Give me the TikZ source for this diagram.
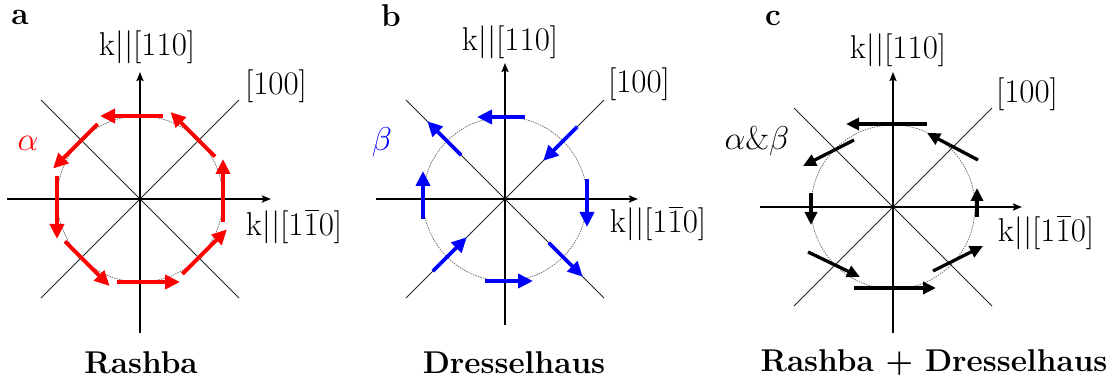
\RequirePackage{fix-cm}
\documentclass[tikz,border=0pt]{standalone}
\usetikzlibrary{arrows.meta,calc}
\newcommand{\barone}{\makebox[0pt][l]{\hspace{0.05em}\rule[0.74em]{0.42em}{0.045em}}1}
\begin{document}
\begin{tikzpicture}[x=1pt,y=-1pt,
  axis/.style={line width=2.4pt,-{Stealth[length=9pt,width=7pt,inset=1.5pt]}},
  diag/.style={line width=0.75pt,black!85},
  circ/.style={dash pattern=on 1.5pt off 1pt,line width=0.7pt,black!60},
  field/.style={line width=3.8pt,-{Triangle[length=15pt,width=14pt]}},
  lab/.style={font=\fontsize{33}{38}\selectfont,inner sep=0pt},
  ttl/.style={font=\fontsize{31.5}{36}\selectfont\bfseries,inner sep=0pt}]
\useasboundingbox (0,0) rectangle (1118,387);

% ---------- panel a : Rashba ----------
\coordinate (A) at (140,199);
\draw[diag] ($(A)+(-99,-99)$) -- ($(A)+(99,99)$);
\draw[diag] ($(A)+(-99,99)$) -- ($(A)+(99,-99)$);
\draw[circ] (A) circle[radius=83];
\draw[axis] (140,333) -- (140,72);
\draw[axis] (7,199) -- (271,199);
\foreach \t in {0,45,...,315}{
  \pgfmathsetmacro{\pa}{-\t}
  \pgfmathsetmacro{\fa}{-\t-90}
  \draw[field,red] ($(A)+(\pa:83)+(\fa:-23)$) -- ($(A)+(\pa:83)+(\fa:40)$);
}
\node[ttl] (la) at (20,17) {a};
\node[lab] (ya) at (147,47) {k||[110]};
\node[lab] (da) at (276,86) {[100]};
\node[lab] (xa) at (294,227) {k||[1\barone0]};
\node[lab,text=red] (ra) at (28,143) {$\alpha$};
\node[ttl] (ta) at (141,363) {Rashba};

% ---------- panel b : Dresselhaus ----------
\coordinate (B) at (505,199);
\draw[diag] ($(B)+(-99,-99)$) -- ($(B)+(99,99)$);
\draw[diag] ($(B)+(-99,99)$) -- ($(B)+(99,-99)$);
\draw[circ] (B) circle[radius=82];
\draw[axis] (505,325) -- (505,63);
\draw[axis] (376,199) -- (638,199);
\foreach \t in {0,45,...,315}{
  \pgfmathsetmacro{\pa}{-\t}
  \pgfmathsetmacro{\fa}{-(270-\t)}
  \draw[field,blue] ($(B)+(\pa:82)+(\fa:-20)$) -- ($(B)+(\pa:82)+(\fa:28)$);
}
\node[ttl] (lb) at (391,16) {b};
\node[lab] (yb) at (510,42) {k||[110]};
\node[lab] (db) at (639,84) {[100]};
\node[lab] (xb) at (658,224) {k||[1\barone0]};
\node[lab,text=blue] (rb) at (382,142) {$\beta$};
\node[ttl] (tb) at (514,363) {Dresselhaus};

% ---------- panel c : Rashba + Dresselhaus ----------
\coordinate (C) at (893,207);
\draw[diag] ($(C)+(-99,-99)$) -- ($(C)+(99,99)$);
\draw[diag] ($(C)+(-99,99)$) -- ($(C)+(99,-99)$);
\draw[circ] (C) circle[radius=82];
\draw[axis] (893,333) -- (893,72);
\draw[axis] (760,207) -- (1022,207);
\begin{scope}[field/.append style={-{Triangle[length=13pt,width=12pt]},line width=3.3pt}]
\draw[field] (927,124) -- (846,124);
\draw[field] (978,160) -- (927,133);
\draw[field] (977,217) -- (977,188);
\draw[field] (933,271) -- (983,246);
\draw[field] (854,288) -- (936,288);
\draw[field] (808,252) -- (860,277);
\draw[field] (811,193) -- (811,225);
\draw[field] (854,140) -- (803,166);
\end{scope}
\node[ttl] (lc) at (773,18) {c};
\node[lab] (yc) at (898,50) {k||[110]};
\node[lab] (dc) at (1027,94) {[100]};
\node[lab] (xc) at (1046,233) {k||[1\barone0]};
\node[lab] (rc) at (757,141) {$\alpha\&\beta$};
\node[ttl] (tc) at (934,363) {Rashba + Dresselhaus};
\end{tikzpicture}
\end{document}
